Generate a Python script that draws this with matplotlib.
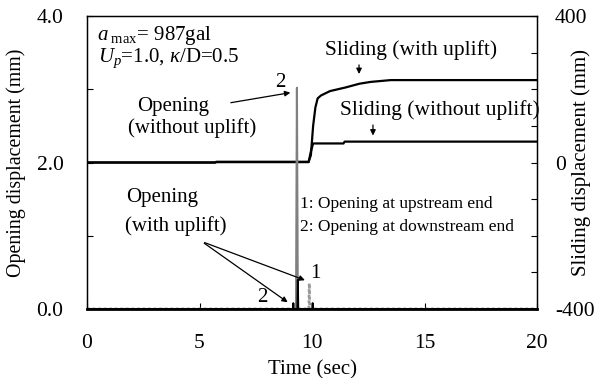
import numpy as np
import matplotlib
matplotlib.use("Agg")
import matplotlib.pyplot as plt

plt.rcParams["font.family"] = ["Liberation Serif", "DejaVu Serif"]
plt.rcParams["mathtext.fontset"] = "custom"
plt.rcParams["mathtext.rm"] = "Liberation Serif"
plt.rcParams["mathtext.it"] = "Liberation Serif:italic"

# ── Sliding displacement (mm), right axis ──
slide_with_t = [0, 5.7, 5.75, 9.85, 9.95, 10.05, 10.15, 10.25, 10.4, 10.8, 11.5, 12.1, 12.6, 13.5, 20]
slide_with_v = [0, 0, 2, 2, 20, 100, 150, 175, 183, 195, 205, 215, 220, 225, 225]
slide_wo_t = [0, 5.7, 5.75, 9.85, 9.95, 10.05, 11.4, 11.45, 20]
slide_wo_v = [0, 0, 1, 1, 30, 52, 52, 57, 57]

# ── Opening displacement (mm), left axis ──
open_wo_t = [0, 9.29, 9.33, 9.37, 20]
open_wo_v = [0, 0, 3.02, 0, 0]
open_down_t = [0, 9.15, 9.17, 9.19, 9.35, 9.37, 9.39, 10.01, 10.03, 10.05, 20]
open_down_v = [0, 0, 0.08, 0, 0, 0.40, 0, 0, 0.08, 0, 0]
open_up_t = [0, 9.86, 9.88, 9.90, 20]
open_up_v = [0, 0, 0.35, 0, 0]

fig = plt.figure(figsize=(5.95, 3.78), dpi=100)
ax = fig.add_axes([87/595, 1-309/378, 450/595, 293/378])
ax2 = ax.twinx()

ax2.plot(slide_wo_t, slide_wo_v, color="black", lw=1.6, zorder=3)
ax2.plot(slide_with_t, slide_with_v, color="black", lw=1.6, zorder=3)

ax.plot(open_wo_t, open_wo_v, color="#808080", lw=1.5, zorder=2)
ax.plot(open_up_t, open_up_v, color="#999999", lw=2.0, ls=(0, (1, 1)), zorder=2)
ax.plot(open_down_t, open_down_v, color="black", lw=1.4, zorder=3)
ax.axhline(0, color="black", lw=2.0, zorder=4)

ax.set_xlim(0, 20)
ax.set_ylim(0, 4)
ax2.set_ylim(-400, 400)
ax.set_zorder(ax2.get_zorder() + 1)
ax.patch.set_visible(False)

ax.set_xticks([0, 5, 10, 15, 20])
ax.set_yticks([0, 1, 2, 3, 4])
ax.set_yticklabels(["0.0", "", "2.0", "", "4.0"])
ax2.set_yticks(np.arange(-400, 401, 100))
ax2.set_yticklabels(["-400", "", "", "", "0", "", "", "", "400"])

tfs = 15.5
ax.tick_params(axis="x", direction="in", length=4, pad=18, labelsize=tfs)
ax.tick_params(axis="y", direction="in", length=4, pad=17, labelsize=tfs)
ax2.tick_params(axis="y", direction="in", length=4, pad=13, labelsize=tfs)
for sp in ax.spines.values():
    sp.set_linewidth(1.0)
ax.spines["bottom"].set_linewidth(2.0)

ax.set_xlabel("Time (sec)", fontsize=15, labelpad=5)
ax.set_ylabel("Opening displacement (mm)", fontsize=14.3)
ax2.set_ylabel("Sliding displacement (mm)", fontsize=15)
ax.yaxis.set_label_coords(-61/450, 0.5)
ax2.yaxis.set_label_coords(1 + 34/450, 0.5)

fs = 15
ax.text(0.44, 3.73, r"$a_{\ \mathrm{max}}$= 987gal", fontsize=fs, va="center")
ax.text(0.49, 3.43, r"$U_p$=1.0, $\kappa$/D=0.5", fontsize=fs, va="center")

ax.text(2.22, 2.76, "Opening", fontsize=fs, va="center")
ax.text(1.82, 2.47, "(without uplift)", fontsize=fs, va="center")
ax.annotate("", xy=(9.16, 2.96), xytext=(6.27, 2.81),
            arrowprops=dict(arrowstyle="-|>", color="black", lw=0.9, mutation_scale=8))
ax.text(8.58, 3.09, "2", fontsize=fs, ha="center", va="center")

ax.text(10.58, 3.54, "Sliding (with uplift)", fontsize=15.5, va="center")
ax.annotate("", xy=(12.09, 3.17), xytext=(12.09, 3.37),
            arrowprops=dict(arrowstyle="-|>", color="black", lw=0.9, mutation_scale=8))
ax.text(11.24, 2.72, "Sliding (without uplift)", fontsize=15.5, va="center")
ax.annotate("", xy=(12.71, 2.33), xytext=(12.71, 2.55),
            arrowprops=dict(arrowstyle="-|>", color="black", lw=0.9, mutation_scale=8))

ax.text(1.73, 1.52, "Opening", fontsize=fs, va="center")
ax.text(1.69, 1.13, "(with uplift)", fontsize=fs, va="center")
ax.annotate("", xy=(9.02, 0.07), xytext=(5.11, 0.92),
            arrowprops=dict(arrowstyle="-|>", color="black", lw=0.9, mutation_scale=8))
ax.annotate("", xy=(9.8, 0.38), xytext=(5.11, 0.92),
            arrowprops=dict(arrowstyle="-|>", color="black", lw=0.9, mutation_scale=8))
ax.text(7.78, 0.16, "2", fontsize=fs, ha="center", va="center")
ax.text(10.13, 0.49, "1", fontsize=fs, ha="center", va="center")

ax.text(9.45, 1.43, "1: Opening at upstream end", fontsize=12.5, va="center")
ax.text(9.45, 1.12, "2: Opening at downstream end", fontsize=12.5, va="center")

fig.savefig("out.png", dpi=100)
